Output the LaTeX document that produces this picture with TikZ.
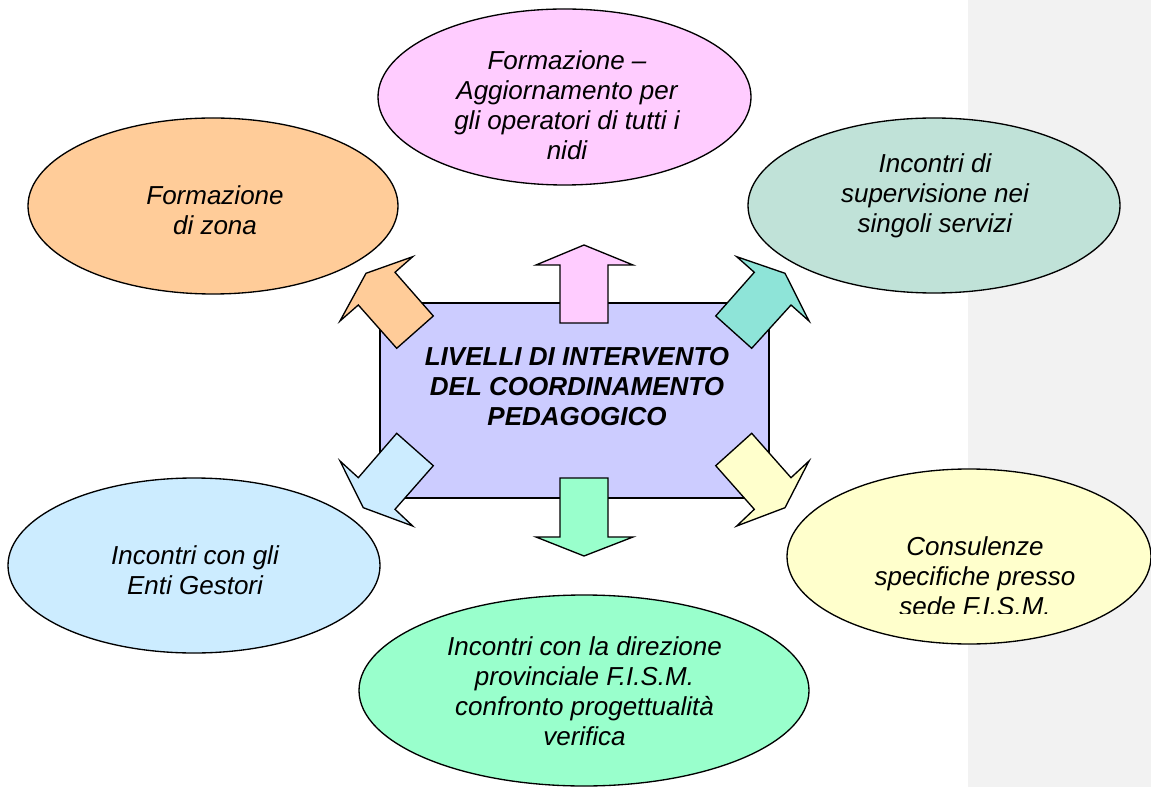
\documentclass[tikz,border=0pt]{standalone}
\usepackage{fontspec}
\setmainfont{Liberation Sans}
\usetikzlibrary{shapes.geometric}
\definecolor{cOrange}{HTML}{FFCC99}
\definecolor{cPink}{HTML}{FFCCFF}
\definecolor{cTealE}{HTML}{C0E2D8}
\definecolor{cTealA}{HTML}{8EE4D8}
\definecolor{cBlue}{HTML}{CCECFF}
\definecolor{cGreen}{HTML}{99FFCC}
\definecolor{cYellow}{HTML}{FFFFCC}
\definecolor{cCenter}{HTML}{CCCCFF}
\definecolor{cGrey}{HTML}{F2F2F2}
\tikzset{
  bubble/.style={ellipse, draw=black, line width=1pt, inner sep=0pt},
  txt/.style={align=center, inner sep=0pt, font=\fontsize{19.5}{22.5}\selectfont\itshape},
  btxt/.style={align=center, inner sep=0pt, font=\fontsize{19.5}{22.5}\selectfont\bfseries\itshape},
  blockarrow/.style={draw=black, line width=1pt, line join=miter}
}
\begin{document}
\begin{tikzpicture}[x=0.75pt,y=-0.75pt]
\useasboundingbox (0,0) rectangle (1151,787);
\fill[cGrey] (968,0) rectangle (1151,787);

% ellipses
\node[bubble, fill=cOrange, minimum width=277.5pt, minimum height=132pt] (eOrange) at (213,206) {};
\node[bubble, fill=cPink, minimum width=279.75pt, minimum height=132pt] (ePink) at (564.5,97) {};
\node[bubble, fill=cTealE, minimum width=279pt, minimum height=131.25pt] (eTeal) at (934,205.5) {};
\node[bubble, fill=cBlue, minimum width=279pt, minimum height=131.25pt] (eBlue) at (194,565.5) {};
\node[bubble, fill=cGreen, minimum width=337.5pt, minimum height=143.25pt] (eGreen) at (584,690.5) {};
\node[bubble, fill=cYellow, minimum width=273pt, minimum height=131.25pt] (eYellow) at (969,556.5) {};

% texts
\node[txt] (tOrange) at (215,210) {Formazione\\ di zona};
\node[txt] (tPink) at (567,105) {Formazione –\\Aggiornamento per\\gli operatori di tutti i\\nidi};
\node[txt] (tTeal) at (935,196) {Incontri di\\supervisione nei\\singoli servizi};
\node[txt] (tBlue) at (195,570) {Incontri con gli\\Enti Gestori};
\node[txt] (tGreen) at (584.5,691) {Incontri con la direzione\\provinciale F.I.S.M.\\confronto progettualità\\verifica};
\begin{scope}
\clip (787,460) rectangle (1151,613);
\node[txt] (tYellow) at (975,576) {Consulenze\\specifiche presso\\sede F.I.S.M.};
\end{scope}

% centre box
\node[rectangle, draw=black, line width=1pt, fill=cCenter, inner sep=0pt,
      minimum width=291.75pt, minimum height=146.25pt] (box) at (574.5,400.5) {};
\node[btxt] (tBox) at (577,387) {LIVELLI DI INTERVENTO\\DEL COORDINAMENTO\\PEDAGOGICO};

% block arrows
\draw[blockarrow, fill=cPink] (560,323) -- (560,265) -- (536,265) -- (584,245) -- (633,265) -- (608,265) -- (608,323) -- cycle;
\draw[blockarrow, fill=cGreen] (560,478) -- (560,537) -- (536,537) -- (584,556) -- (633,537) -- (608,537) -- (608,478) -- cycle;
\draw[blockarrow, fill=cOrange] (340,321) -- (366,273.3) -- (412.7,256.7) -- (395,272.3) -- (433.3,316) -- (396.7,348.3) -- (358.3,305) -- cycle;
\draw[blockarrow, fill=cTealA] (736.7,256.7) -- (785,273.3) -- (809,321) -- (791,305) -- (751.7,348.3) -- (715.7,316) -- (754.3,272.3) -- cycle;
\draw[blockarrow, fill=cBlue] (396.7,433.3) -- (433.3,465.7) -- (395,509.3) -- (412.7,526) -- (363.3,507.7) -- (340,461) -- (358.3,477.7) -- cycle;
\draw[blockarrow, fill=cYellow] (751.7,433.3) -- (715.7,465.7) -- (754.3,509.3) -- (736.7,526) -- (785,507.7) -- (809,461) -- (791,477.7) -- cycle;
\end{tikzpicture}
\end{document}
